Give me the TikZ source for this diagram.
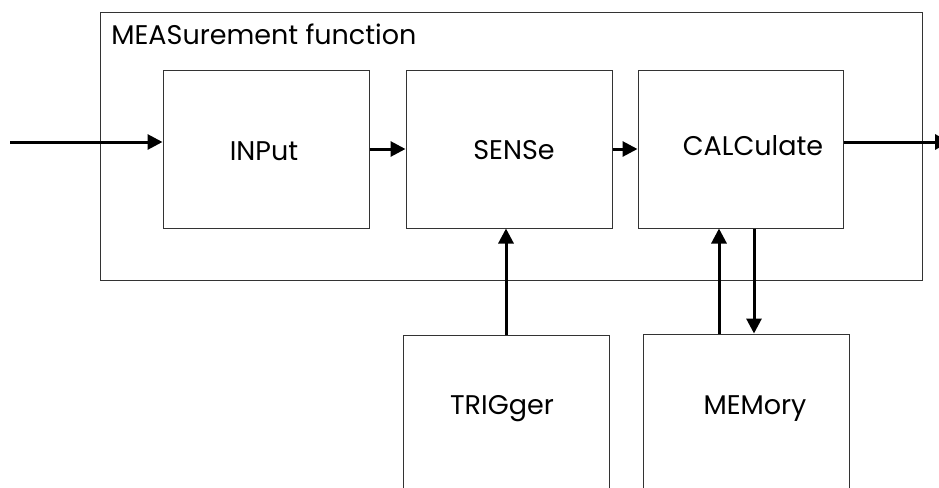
\documentclass[tikz,border=0pt]{standalone}
\usepackage{fontspec}
\setmainfont{Poppins}
\usetikzlibrary{arrows.meta}

\begin{document}
\begin{tikzpicture}
  [x=0.5pt, y=-0.5pt,
   block/.style={draw=black!80, line width=0.5pt, inner sep=0pt, minimum width=103pt, minimum height=79pt},
   lbl/.style={font=\fontsize{13.5}{16}\selectfont},
   flow/.style={line width=1.5pt, -{Triangle[length=7.5pt, width=7.5pt]}}]

  \useasboundingbox (0,0) rectangle (939,488);

  % Marco de la funcion
  \node[block, minimum width=411pt, minimum height=134pt] (meas) at (511,146) {};
  \node[lbl, anchor=west, inner sep=0pt] (title) at (111,34) {MEASurement function};

  % Bloques
  \node[block, label={[lbl, xshift=-1pt, yshift=-1pt]center:INPut}] (inp) at (266,149) {};
  \node[block, label={[lbl, xshift=2.5pt, yshift=-0.5pt]center:SENSe}] (sens) at (509,149) {};
  \node[block, minimum width=102.5pt, label={[lbl, xshift=6.25pt, yshift=1.75pt]center:CALCulate}] (calc) at (740.5,149) {};
  \node[block, minimum height=80pt, label={[lbl, xshift=-2pt, yshift=3pt]center:TRIGger}] (trig) at (506,415) {};
  \node[block, minimum height=80pt, label={[lbl, xshift=4.5pt, yshift=2.5pt]center:MEMory}] (mem) at (746,414) {};

  % Entrada y salida
  \coordinate (src) at (10,142);
  \coordinate (out) at (950,142);

  % Flechas
  \draw[flow] (src) -- (src -| inp.west);
  \foreach \from/\to in {inp/sens, sens/calc}
    \draw[flow] (\from) -- (\to);
  \draw[flow] (calc.east |- out) -- (out);
  \draw[flow] (trig.north) -- (trig.north |- sens.south);
  \draw[flow] ([xshift=-13.5pt]mem.north) -- ([xshift=-13.5pt]mem.north |- calc.south);
  \draw[flow] ([xshift=4pt]mem.north |- calc.south) -- ([xshift=4pt]mem.north);
\end{tikzpicture}
\end{document}
